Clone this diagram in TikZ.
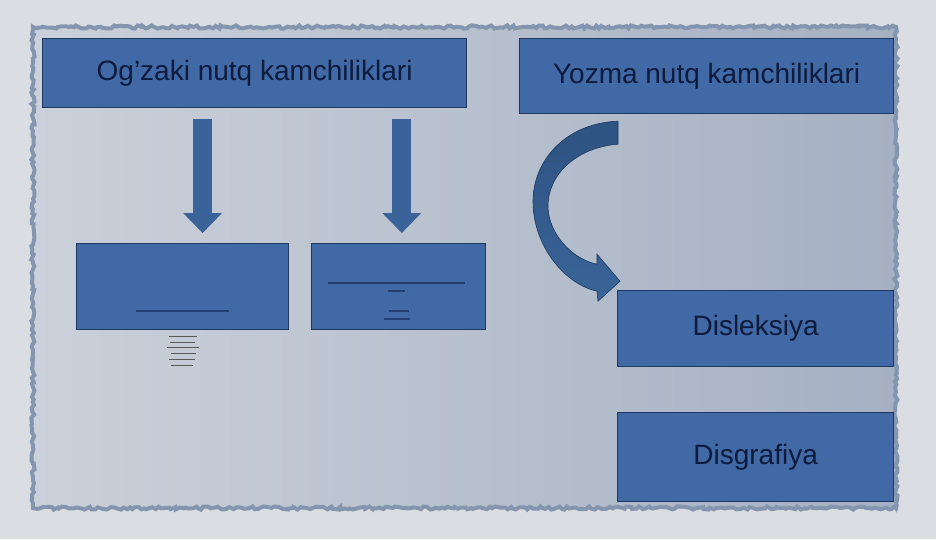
\documentclass[tikz,border=0pt]{standalone}
\usepackage{fontspec}
\setmainfont{Liberation Sans}
\usetikzlibrary{arrows.meta, calc, positioning, decorations.pathmorphing}
\definecolor{pagegrey}{HTML}{DADDE2}
\definecolor{panelleft}{HTML}{CBD1DA}
\definecolor{panelmid}{HTML}{C1C8D3}
\definecolor{panelright}{HTML}{A5B0C2}
\definecolor{frameedge}{HTML}{8495AF}
\definecolor{boxblue}{HTML}{4169A6}
\definecolor{boxline}{HTML}{1E3862}
\definecolor{inktext}{HTML}{0D1B3D}
\definecolor{arrowblue}{HTML}{3A6499}
\definecolor{arrowdark}{HTML}{2E5281}
\definecolor{scrib}{HTML}{223F72}
\tikzset
{%
kbox/.style={fill=boxblue, draw=boxline, line width=1.2pt, text=inktext, font=\fontsize{28}{30}\selectfont, inner sep=0pt, anchor=north west},
fatarrow/.style={line width=19pt, draw=arrowblue, -{Triangle[length=20pt, width=39pt, line width=0pt, fill=arrowblue]}},
roughedge/.style={draw=frameedge, line width=4pt, decorate, decoration={random steps, segment length=3pt, amplitude=1.6pt}},
scribble/.style={draw=scrib, line width=1.6pt},
smallprint/.style={draw=black!65, line width=0.9pt}
}
\begin{document}
\begin{tikzpicture}[x=1pt, y=-1pt]
	\useasboundingbox (0,0) rectangle (936,539);
	
	% BACKGROUND
	\fill[pagegrey] (0,0) rectangle (936,539);
	\shade[left color=panelleft, middle color=panelmid, right color=panelright] (33,27) rectangle (896,508);
	\draw[roughedge] (33,27) rectangle (896,508);
	
	% TOP ROW
	\node[kbox, minimum width=424pt, minimum height=69pt] (ogz) at (42,38) {Og'zaki nutq kamchiliklari};
	\node[kbox, minimum width=374pt, minimum height=75pt] (yoz) at (519,38) {Yozma nutq kamchiliklari};
	
	% SECOND ROW
	\node[kbox, minimum width=212pt, minimum height=86pt] (oga) at (76,243) {};
	\node[kbox, minimum width=174pt, minimum height=86pt, right=22pt of oga] (ogb) {};
	
	% RIGHT COLUMN
	\node[kbox, minimum width=276pt, minimum height=76pt] (dis) at (617,290) {Disleksiya};
	\node[kbox, minimum width=276pt, minimum height=89pt, below=45pt of dis] (dsg) {Disgrafiya};
	
	% small print in the boxes
	\draw[scribble, line width=2.4pt] (136,311) -- (229,311);
	\foreach \yy/\xa/\xb in {336/169/197, 342/170/195, 347/167/199, 353/171/196, 359/169/195, 365/171/193}
		\draw[smallprint] (\xa,\yy) -- (\xb,\yy);
	\draw[scribble] (328,283) -- (465,283);
	\draw[scribble] (388,291) -- (405,291);
	\draw[scribble] (389,311) -- (409,311);
	\draw[scribble] (384,319) -- (410,319);
	
	% arrows
	\draw[fatarrow] ([xshift=20pt, yshift=-11pt]ogz.south -| oga.north) -- ([xshift=20pt, yshift=10pt]oga.north);
	\draw[fatarrow] ([xshift=3pt, yshift=-11pt]ogz.south -| ogb.north) -- ([xshift=3pt, yshift=10pt]ogb.north);
	
	\coordinate (cstart) at ([shift={(99pt,-7pt)}]yoz.south west);
	\begin{scope}[shift={(cstart)}]
		\path[top color=arrowdark, bottom color=arrowblue, draw=boxline, line width=0.6pt]
		(0,0) .. controls (-53,2) and (-85,40) .. (-85,80)
		.. controls (-85,125) and (-53,163) .. (-21,170)
		-- (-20,180) -- (2,160) -- (-21,133) -- (-21,143)
		.. controls (-46,138) and (-70,112) .. (-70,85)
		.. controls (-70,52) and (-40,26) .. (0,23) -- cycle;
	\end{scope}
\end{tikzpicture}
\end{document}
